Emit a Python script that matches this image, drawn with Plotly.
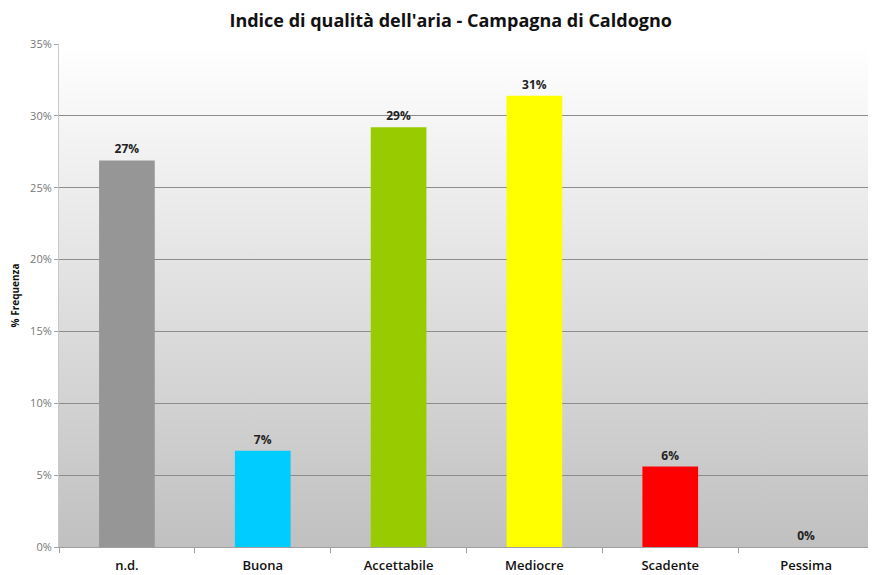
import base64
import plotly.graph_objects as go

categories = ["n.d.", "Buona", "Accettabile", "Mediocre", "Scadente", "Pessima"]
values = [26.9, 6.7, 29.2, 31.4, 5.6, 0.0]
colors = ["#969696", "#00ccff", "#99cc00", "#ffff00", "#ff0000", "#ff0000"]
tick_vals = [0, 5, 10, 15, 20, 25, 30, 35]
tick_text = ["0%", "5%", "10%", "15%", "20%", "25%", "30%", "35%"]

svg = ('<svg xmlns="http://www.w3.org/2000/svg" width="100" height="100" preserveAspectRatio="none">'
       '<defs><linearGradient id="g" x1="0" y1="0" x2="0" y2="1">'
       '<stop offset="0" stop-color="#ffffff"/><stop offset="1" stop-color="#c0c0c0"/>'
       '</linearGradient></defs><rect width="100" height="100" fill="url(#g)"/></svg>')
bg = "data:image/svg+xml;base64," + base64.b64encode(svg.encode()).decode()

fig = go.Figure(go.Bar(
    x=categories, y=values, marker_color=colors, marker_line_width=0,
    width=0.41,
    text=[f"{round(v)}%" for v in values], textposition="outside",
    textfont=dict(family="Open Sans", size=12, color="#222222", weight="bold"),
    cliponaxis=False, hoverinfo="skip",
))

fig.update_layout(
    template="none",
    width=868, height=567,
    margin=dict(l=51, r=2, t=36, b=28),
    paper_bgcolor="white", plot_bgcolor="rgba(0,0,0,0)",
    title=dict(text="<b>Indice di qualità dell'aria - Campagna di Caldogno</b>",
               x=0.510, xanchor="center", y=0.978, yanchor="middle",
               font=dict(family="Open Sans", size=18, color="#111111")),
    showlegend=False,
    images=[dict(source=bg, xref="paper", yref="paper", x=0, y=1, sizex=1, sizey=1,
                 sizing="stretch", layer="below", xanchor="left", yanchor="top")],
    xaxis=dict(showline=True, linecolor="#a0a0a0", linewidth=1, automargin=False,
               ticks="outside", tickson="boundaries", ticklen=5, tickcolor="#a0a0a0",
               ticklabelstandoff=6,
               tickfont=dict(family="Open Sans", size=13, color="#111111", weight=600),
               showgrid=False),
    yaxis=dict(range=[0, 35], tickvals=tick_vals, ticktext=tick_text, automargin=False,
               showline=True, linecolor="#c8c8c8", linewidth=1,
               ticks="outside", ticklen=4, tickcolor="#a0a0a0",
               showgrid=True, gridcolor="#8c8c8c", gridwidth=1, zeroline=False,
               tickfont=dict(family="Open Sans", size=11, color="#777777"),
               title=dict(text="<b>% Frequenza</b>", standoff=14,
                          font=dict(family="Open Sans", size=10, color="#111111"))),
)

fig.write_html("out.html")
